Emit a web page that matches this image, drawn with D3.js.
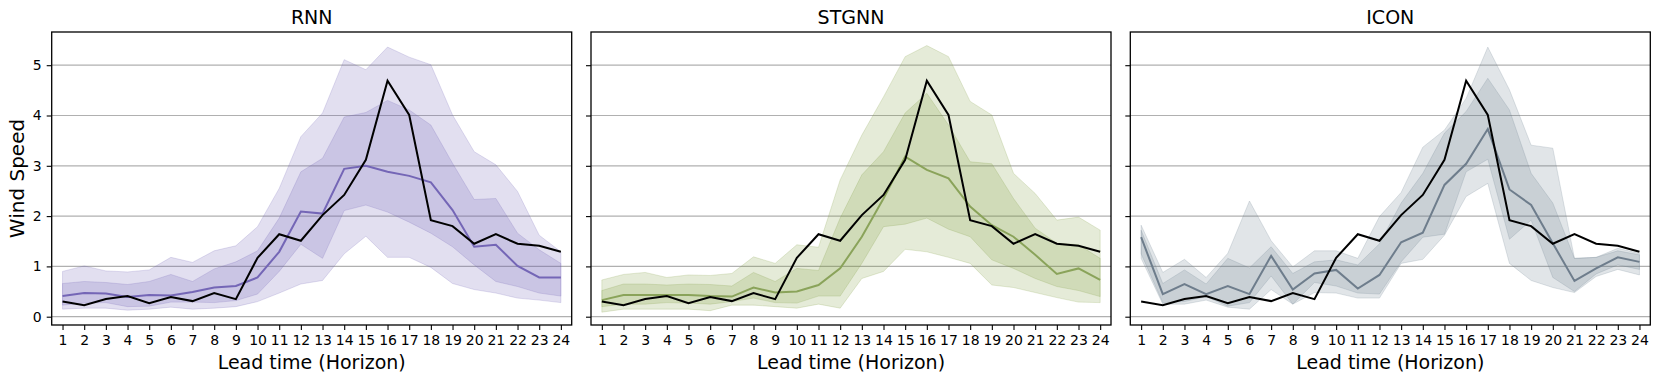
<!DOCTYPE html>
<html>
<head>
<meta charset="utf-8">
<script src="https://cdn.jsdelivr.net/npm/d3@7"></script>
<style>
  html, body { margin: 0; padding: 0; background: #fff; }
  svg { display: block; font-family: "DejaVu Sans", sans-serif; }
</style>
</head>
<body>
<svg id="chart" width="1660" height="382"></svg>
<script>
// Lead times 1..24
const horizons = d3.range(1, 25);
const yTicks = [0, 1, 2, 3, 4, 5];

// Observed wind speed (black line, same in every panel)
const observed = [0.30, 0.23, 0.35, 0.41, 0.27, 0.39, 0.31, 0.47, 0.35, 1.17, 1.64, 1.51,
  2.02, 2.42, 3.12, 4.69, 4.01, 1.92, 1.80, 1.45, 1.64, 1.45, 1.41, 1.29];

// RNN
const rnnMean = [0.41, 0.47, 0.46, 0.39, 0.43, 0.42, 0.49, 0.58, 0.61, 0.78, 1.29, 2.09,
  2.05, 2.94, 3.00, 2.88, 2.80, 2.67, 2.12, 1.39, 1.43, 1.01, 0.78, 0.78];
const rnnInnerLo = [0.23, 0.27, 0.28, 0.20, 0.21, 0.29, 0.29, 0.28, 0.32, 0.45, 0.90, 1.44,
  1.16, 2.11, 2.22, 2.08, 1.88, 1.66, 1.39, 1.03, 0.70, 0.60, 0.47, 0.41];
const rnnInnerHi = [0.66, 0.70, 0.68, 0.64, 0.70, 0.84, 0.70, 0.95, 1.09, 1.31, 1.96, 2.88,
  3.15, 3.97, 4.06, 4.30, 4.11, 3.81, 3.05, 2.33, 2.35, 1.66, 1.33, 1.06];
const rnnOuterLo = [0.15, 0.17, 0.17, 0.13, 0.15, 0.19, 0.15, 0.17, 0.20, 0.30, 0.47, 0.65,
  0.72, 1.25, 1.60, 1.18, 1.18, 0.98, 0.66, 0.54, 0.47, 0.37, 0.33, 0.28];
const rnnOuterHi = [0.90, 1.01, 0.91, 0.89, 0.93, 1.18, 1.08, 1.31, 1.41, 1.79, 2.55, 3.58,
  4.05, 5.11, 4.91, 5.36, 5.16, 5.01, 4.01, 3.28, 3.02, 2.49, 1.62, 1.29];

// STGNN
const stgnnMean = [0.33, 0.43, 0.43, 0.43, 0.43, 0.41, 0.40, 0.58, 0.48, 0.50, 0.63, 0.96,
  1.59, 2.35, 3.18, 2.92, 2.75, 2.19, 1.82, 1.59, 1.23, 0.85, 0.96, 0.73];
const stgnnInnerLo = [0.20, 0.25, 0.25, 0.28, 0.27, 0.25, 0.30, 0.37, 0.28, 0.27, 0.41, 0.41,
  1.06, 1.79, 1.84, 1.96, 1.74, 1.59, 1.13, 0.96, 0.76, 0.60, 0.52, 0.40];
const stgnnInnerHi = [0.52, 0.65, 0.65, 0.63, 0.65, 0.64, 0.61, 0.88, 0.70, 0.96, 0.92, 1.96,
  2.82, 3.28, 4.05, 4.44, 3.81, 3.08, 3.04, 2.35, 1.76, 1.46, 1.43, 1.16];
const stgnnOuterLo = [0.09, 0.15, 0.15, 0.15, 0.15, 0.12, 0.23, 0.23, 0.20, 0.17, 0.25, 0.17,
  0.76, 0.90, 1.34, 1.29, 1.18, 1.06, 0.63, 0.58, 0.48, 0.38, 0.29, 0.28];
const stgnnOuterHi = [0.73, 0.84, 0.88, 0.78, 0.83, 0.82, 0.86, 1.19, 1.06, 1.43, 1.38, 2.72,
  3.61, 4.37, 5.17, 5.39, 5.17, 4.28, 4.01, 2.85, 2.45, 1.92, 1.98, 1.72];

// ICON
const iconMean = [1.58, 0.45, 0.65, 0.45, 0.61, 0.45, 1.21, 0.54, 0.86, 0.93, 0.56, 0.83,
  1.48, 1.67, 2.62, 3.04, 3.73, 2.53, 2.22, 1.46, 0.71, 0.96, 1.18, 1.09];
const iconInnerLo = [1.25, 0.28, 0.30, 0.40, 0.21, 0.28, 0.81, 0.25, 0.68, 0.61, 0.47, 0.45,
  1.09, 1.58, 1.64, 2.88, 3.13, 1.54, 1.92, 0.78, 0.50, 0.85, 1.03, 0.94];
const iconInnerHi = [1.72, 0.66, 0.93, 0.65, 1.16, 0.97, 1.39, 0.86, 1.09, 1.13, 1.03, 1.45,
  2.26, 2.85, 3.65, 4.08, 4.74, 4.11, 2.85, 2.26, 1.16, 1.18, 1.31, 1.23];
const iconOuterLo = [1.16, 0.25, 0.25, 0.33, 0.19, 0.15, 0.54, 0.25, 0.48, 0.47, 0.37, 0.37,
  1.06, 1.14, 1.62, 2.39, 2.65, 1.06, 0.72, 0.58, 0.48, 0.80, 0.94, 0.83];
const iconOuterHi = [1.82, 0.88, 1.14, 0.78, 1.26, 2.30, 1.51, 0.99, 1.31, 1.31, 1.16, 1.99,
  2.47, 3.37, 3.71, 4.34, 5.36, 4.51, 3.41, 3.35, 1.16, 1.18, 1.36, 1.26];

const panels = [
  { title: 'RNN', color: '#6d5fb3', line: '#7466b6',
    mean: rnnMean, innerLo: rnnInnerLo, innerHi: rnnInnerHi, outerLo: rnnOuterLo, outerHi: rnnOuterHi },
  { title: 'STGNN', color: '#7d9a3e', line: '#8aa35a',
    mean: stgnnMean, innerLo: stgnnInnerLo, innerHi: stgnnInnerHi, outerLo: stgnnOuterLo, outerHi: stgnnOuterHi },
  { title: 'ICON', color: '#6a7b8c', line: '#6e7d8c',
    mean: iconMean, innerLo: iconInnerLo, innerHi: iconInnerHi, outerLo: iconOuterLo, outerHi: iconOuterHi },
];

const svg = d3.select('#chart');

// layout (pixels)
const panelLefts = [51.7, 591, 1130.3];
const panelWidth = 520;
const plotTop = 32;
const plotHeight = 293;

const y = d3.scaleLinear().domain([-0.165, 5.66]).range([plotTop + plotHeight, plotTop]);

panels.forEach((p, k) => {
  const left = panelLefts[k];
  const x = d3.scaleLinear().domain([0.5, 24.5]).range([left, left + panelWidth]);
  const g = svg.append('g');

  // grid
  g.selectAll('line.grid')
    .data(yTicks)
    .enter()
    .append('line')
    .attr('class', 'grid')
    .attr('x1', left).attr('x2', left + panelWidth)
    .attr('y1', d => y(d)).attr('y2', d => y(d))
    .attr('stroke', '#b0b0b0')
    .attr('stroke-width', 1.2);

  // bands: outer then inner, both drawn with the same alpha
  [[p.outerLo, p.outerHi], [p.innerLo, p.innerHi]].forEach(([lo, hi]) => {
    g.append('path')
      .datum(horizons)
      .attr('d', d3.area()
        .x(d => x(d))
        .y0((d, i) => y(lo[i]))
        .y1((d, i) => y(hi[i])))
      .attr('fill', p.color)
      .attr('fill-opacity', 0.2)
      .attr('stroke', p.color)
      .attr('stroke-opacity', 0.2)
      .attr('stroke-width', 1);
  });

  const line = vals => d3.line()
    .x(d => x(d))
    .y((d, i) => y(vals[i]));

  g.append('path')
    .datum(horizons)
    .attr('d', line(p.mean))
    .attr('fill', 'none')
    .attr('stroke', p.line)
    .attr('stroke-width', 2);

  g.append('path')
    .datum(horizons)
    .attr('d', line(observed))
    .attr('fill', 'none')
    .attr('stroke', '#000')
    .attr('stroke-width', 2);

  // axes
  const xAxis = g.append('g')
    .attr('transform', `translate(0,${plotTop + plotHeight})`)
    .call(d3.axisBottom(x).tickValues(horizons).tickSize(5).tickPadding(5).tickFormat(d3.format('d')));
  xAxis.select('.domain').remove();
  xAxis.selectAll('line').attr('stroke', '#000').attr('stroke-width', 1.1);
  xAxis.selectAll('text').attr('font-size', 14).attr('fill', '#000')
    .attr('font-family', '"DejaVu Sans", sans-serif');

  const yAxis = g.append('g')
    .attr('transform', `translate(${left},0)`)
    .call(d3.axisLeft(y).tickValues(yTicks).tickSize(5).tickPadding(5)
      .tickFormat(k === 0 ? d3.format('d') : ''));
  yAxis.select('.domain').remove();
  yAxis.selectAll('line').attr('stroke', '#000').attr('stroke-width', 1.1);
  yAxis.selectAll('text').attr('font-size', 14).attr('fill', '#000')
    .attr('font-family', '"DejaVu Sans", sans-serif');

  // frame
  g.append('rect')
    .attr('x', left).attr('y', plotTop)
    .attr('width', panelWidth).attr('height', plotHeight)
    .attr('fill', 'none')
    .attr('stroke', '#000')
    .attr('stroke-width', 1.3);

  // title
  g.append('text')
    .attr('x', left + panelWidth / 2)
    .attr('y', 24)
    .attr('text-anchor', 'middle')
    .attr('font-size', 19)
    .text(p.title);

  // x label
  g.append('text')
    .attr('x', left + panelWidth / 2)
    .attr('y', 369)
    .attr('text-anchor', 'middle')
    .attr('font-size', 19)
    .text('Lead time (Horizon)');
});

// y label
svg.append('text')
  .attr('transform', `translate(24,${plotTop + plotHeight / 2}) rotate(-90)`)
  .attr('text-anchor', 'middle')
  .attr('font-size', 20)
  .text('Wind Speed');
</script>
</body>
</html>
